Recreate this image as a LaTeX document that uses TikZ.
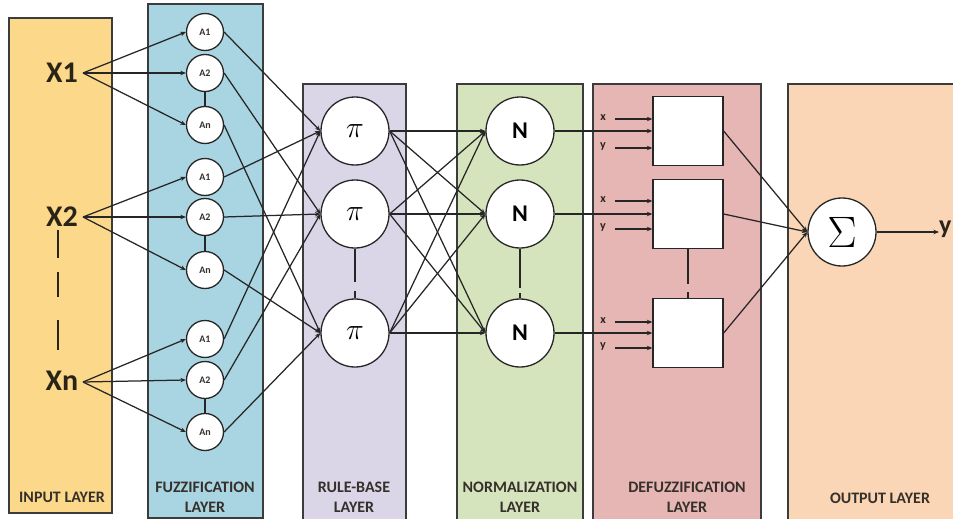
\RequirePackage{fix-cm}
\documentclass[tikz,border=0pt]{standalone}
\usepackage{fontspec}
\setmainfont{Carlito}
\usetikzlibrary{arrows.meta}

\definecolor{inputc}{HTML}{FCD88B}
\definecolor{fuzzc}{HTML}{A9D4E1}
\definecolor{rulec}{HTML}{DAD5E7}
\definecolor{normc}{HTML}{D6E4BD}
\definecolor{defuzc}{HTML}{E6B6B5}
\definecolor{outc}{HTML}{FAD6B6}
\definecolor{panelline}{HTML}{3C3C3C}
\definecolor{wire}{HTML}{262626}
\definecolor{labeltext}{HTML}{35302A}
\definecolor{xtext}{HTML}{2A2418}

\begin{document}
\begin{tikzpicture}[x=1pt,y=-1pt,
  panel/.style={draw=panelline,line width=1.4pt},
  conn/.style={draw=wire,line width=1.25pt,-{Stealth[length=5.5pt,width=4.5pt]}},
  plain/.style={draw=wire,line width=1.25pt},
  mf/.style={circle,draw=wire,line width=1.3pt,fill=white,minimum size=37pt,inner sep=0pt,
    font=\fontsize{10}{10}\selectfont\bfseries,text=labeltext},
  big/.style={circle,draw=wire,line width=1.3pt,fill=white,minimum size=68pt,inner sep=0pt},
  dbox/.style={draw=wire,line width=1.3pt,fill=white,minimum width=70pt,minimum height=69pt,inner sep=0pt},
  xin/.style={font=\fontsize{30}{30}\selectfont\bfseries,text=xtext,inner sep=0pt},
  layer/.style={font=\fontsize{16}{20}\selectfont\bfseries,text=labeltext,align=center,inner sep=0pt},
  tiny/.style={font=\fontsize{12}{12}\selectfont\bfseries,text=xtext,inner sep=0pt},
]
\useasboundingbox (0,0) rectangle (953,519);

% layer panels
\draw[panel,fill=inputc] (9,18) rectangle (112,513);
\draw[panel,fill=fuzzc] (148,4) rectangle (263,518);
\draw[panel,fill=rulec] (303,84) rectangle (406,523);
\draw[panel,fill=normc] (457,84) rectangle (583,523);
\draw[panel,fill=defuzc] (593,84) rectangle (761,523);
\draw[panel,fill=outc] (788,84) rectangle (962,523);

% layer captions
\node[layer] (capin) at (62,497) {INPUT LAYER};
\node[layer] (capfz) at (205,497) {FUZZIFICATION\\LAYER};
\node[layer] (capru) at (354,497) {RULE-BASE\\LAYER};
\node[layer] (capno) at (520,497) {NORMALIZATION\\LAYER};
\node[layer] (capde) at (687,497) {DEFUZZIFICATION\\LAYER};
\node[layer] (capou) at (880,498) {OUTPUT LAYER};

% inputs
\node[xin] (x1) at (62,73) {X1};
\node[xin] (x2) at (62,217) {X2};
\node[xin] (x3) at (62,381) {Xn};
\coordinate (xo1) at (83,73);
\coordinate (xo2) at (83,217);
\coordinate (xo3) at (83,382);
\draw[draw=xtext,line width=1.5pt] (58,230) -- (58,258);
\draw[draw=xtext,line width=1.5pt] (58,272) -- (58,297);
\draw[draw=xtext,line width=1.5pt] (58,320) -- (58,350);

% membership functions
\node[mf] (f11) at (205,32) {A1};
\node[mf] (f12) at (205,73) {A2};
\node[mf] (f13) at (205,125) {An};
\node[mf] (f21) at (205,177) {A1};
\node[mf] (f22) at (205,217) {A2};
\node[mf] (f23) at (205,270) {An};
\node[mf] (f31) at (205,339) {A1};
\node[mf] (f32) at (205,380) {A2};
\node[mf] (f33) at (205,432) {An};
\foreach \i in {1,2,3}{\draw[plain] (f\i2.south) -- (f\i3.north);}

% rule, normalization, defuzzification and output nodes
\node[big,font=\fontsize{30}{30}\selectfont] (p1) at (355,131) {$\pi$};
\node[big,font=\fontsize{30}{30}\selectfont] (p2) at (355,214) {$\pi$};
\node[big,font=\fontsize{30}{30}\selectfont] (p3) at (355,333) {$\pi$};
\node[big,font=\fontsize{24}{24}\selectfont\bfseries] (n1) at (520,131) {N};
\node[big,font=\fontsize{24}{24}\selectfont\bfseries] (n2) at (520,214) {N};
\node[big,font=\fontsize{24}{24}\selectfont\bfseries] (n3) at (520,333) {N};
\node[dbox] (b1) at (688,131) {};
\node[dbox] (b2) at (688,214) {};
\node[dbox] (b3) at (688,333) {};
\node[big,font=\fontsize{44}{44}\selectfont] (s) at (842,232) {$\Sigma$};
\node[font=\fontsize{26}{26}\selectfont\bfseries,text=xtext,inner sep=0pt,anchor=west] (yo) at (939,229) {y};

\draw[plain] (p2.south) -- ++(0,33);
\draw[plain] (p3.north) -- ++(0,-7);
\draw[plain] (n2.south) -- ++(0,39);
\draw[plain] (n3.north) -- ++(0,-5);
\draw[plain] (b2.south) -- ++(0,35);
\draw[plain] (b3.north) -- ++(0,-6);

% x / y inputs of the defuzzification blocks
\node[tiny] (xa) at (603,118) {x};
\node[tiny] (ya) at (603,147) {y};
\node[tiny] (xb) at (603,200) {x};
\node[tiny] (yb) at (603,228) {y};
\node[tiny] (xc) at (603,321) {x};
\node[tiny] (yc) at (603,347) {y};
\draw[conn] (615,119) -- (b1.west |- 0,119);
\draw[conn] (615,148) -- (b1.west |- 0,148);
\draw[conn] (615,201) -- (b2.west |- 0,201);
\draw[conn] (615,229) -- (b2.west |- 0,229);
\draw[conn] (615,322) -- (b3.west |- 0,322);
\draw[conn] (615,348) -- (b3.west |- 0,348);

% connections
\foreach \i in {1,2,3}{
  \foreach \j in {1,2,3}{
    \draw[conn] (xo\i) -- (f\i\j.west);
    \draw[conn] (f\i\j.east) -- (p\j.west);
    \draw[conn] (p\i.east) -- (n\j.west);
  }
  \draw[conn] (n\i.east) -- (b\i.west);
  \draw[conn] (b\i.east) -- (s.west);
}
\draw[conn] (s.east) -- (s.east -| yo.west);
\end{tikzpicture}
\end{document}
